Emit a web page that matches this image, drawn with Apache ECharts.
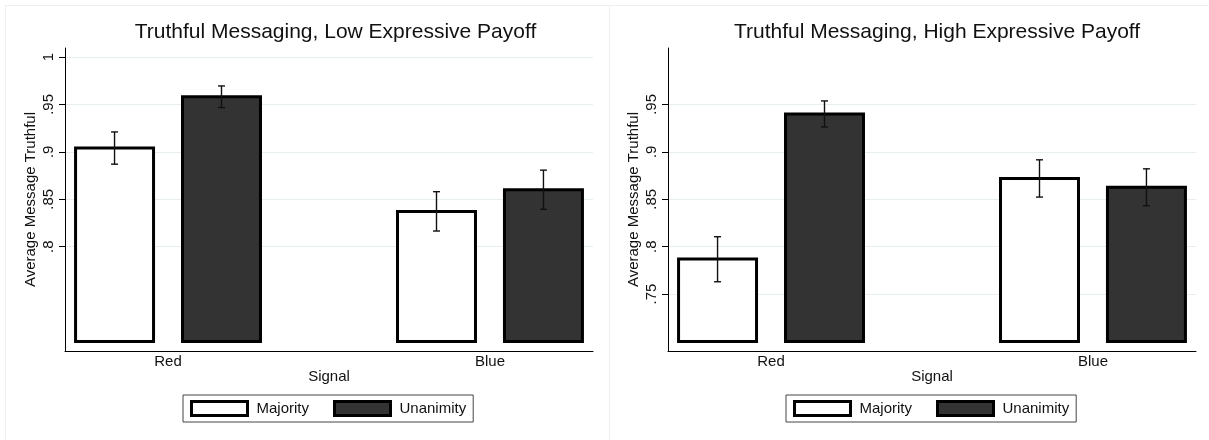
<!DOCTYPE html>
<html><head><meta charset="utf-8">
<script src="https://cdn.jsdelivr.net/npm/echarts@6/dist/echarts.min.js"></script>
<style>html,body{margin:0;padding:0;background:#fff}#c{width:1209px;height:440px}</style>
</head><body><div id="c"></div>
<script>
const categories = ['Red', 'Blue'];
const seriesNames = ['Majority', 'Unanimity'];
const barBase = 0.7;
const lowMajority = [0.904, 0.837];
const lowMajorityLo = [0.887, 0.8165];
const lowMajorityHi = [0.921, 0.858];
const lowUnanimity = [0.958, 0.860];
const lowUnanimityLo = [0.9467, 0.8394];
const lowUnanimityHi = [0.9695, 0.8807];
const highMajority = [0.787, 0.872];
const highMajorityLo = [0.763, 0.8523];
const highMajorityHi = [0.8105, 0.8916];
const highUnanimity = [0.940, 0.8626];
const highUnanimityLo = [0.9263, 0.8432];
const highUnanimityHi = [0.9537, 0.8821];
const lowTicks = [0.8, 0.85, 0.9, 0.95, 1];
const highTicks = [0.75, 0.8, 0.85, 0.9, 0.95];
const titles = ['Truthful Messaging, Low Expressive Payoff', 'Truthful Messaging, High Expressive Payoff'];
const yTitle = 'Average Message Truthful';
const xTitle = 'Signal';

const FONT = '"Liberation Sans", Arial, sans-serif';
const fills = { Majority: '#ffffff', Unanimity: '#333333' };
const sides = { Majority: -1, Unanimity: 1 };

function fmtTick(v) {
  return v === 1 ? '1' : String(v).replace(/^0/, '');
}

function makeRender(name) {
  const side = sides[name];
  const fill = fills[name];
  return function (params, api) {
    const x = api.value(0), v = api.value(1), lo = api.value(2), hi = api.value(3);
    const unit = api.size([1, 0])[0];
    const p = api.coord([x, v]);
    const cx = p[0] + side * 0.1661 * unit;
    const yTop = p[1];
    const yBase = api.coord([x, barBase])[1];
    const yLo = api.coord([x, lo])[1];
    const yHi = api.coord([x, hi])[1];
    const w = 0.2422 * unit;
    const cap = 3.5;
    const es = { stroke: '#111', lineWidth: 1.4 };
    return {
      type: 'group',
      children: [
        { type: 'rect', shape: { x: cx - w / 2, y: yTop, width: w, height: yBase - yTop },
          style: { fill: fill, stroke: '#000', lineWidth: 3 } },
        { type: 'line', shape: { x1: cx, y1: yLo, x2: cx, y2: yHi }, style: es },
        { type: 'line', shape: { x1: cx - cap, y1: yHi, x2: cx + cap, y2: yHi }, style: es },
        { type: 'line', shape: { x1: cx - cap, y1: yLo, x2: cx + cap, y2: yLo }, style: es }
      ]
    };
  };
}

function buildData(vals, los, his) {
  return categories.map((c, i) => [i, vals[i], los[i], his[i]]);
}

const panels = [
  { left: 65, ticks: lowTicks, legendLeft: 183, titleX: 330.5,
    data: { Majority: buildData(lowMajority, lowMajorityLo, lowMajorityHi),
            Unanimity: buildData(lowUnanimity, lowUnanimityLo, lowUnanimityHi) } },
  { left: 668, ticks: highTicks, legendLeft: 786, titleX: 932,
    data: { Majority: buildData(highMajority, highMajorityLo, highMajorityHi),
            Unanimity: buildData(highUnanimity, highUnanimityLo, highUnanimityHi) } }
];

const frameStyle = { stroke: '#edf1f2', lineWidth: 1 };

const option = {
  animation: false,
  backgroundColor: '#ffffff',
  textStyle: { fontFamily: FONT },
  title: panels.map((p, i) => ({
    text: titles[i], left: p.titleX, top: 17, textAlign: 'center',
    textStyle: { fontFamily: FONT, fontSize: 21, fontWeight: 'normal', color: '#111' }
  })),
  grid: panels.map(p => ({ left: p.left, width: 528, top: 48, height: 303 })),
  xAxis: panels.map((p, i) => ({
    type: 'value', gridIndex: i, min: -0.32, max: 1.32,
    name: xTitle, nameLocation: 'middle', nameGap: 18, nameMoveOverlap: false,
    nameTextStyle: { fontFamily: FONT, fontSize: 15, color: '#111' },
    axisLine: { show: true, onZero: false, lineStyle: { color: '#000', width: 1 } },
    axisTick: { show: false, customValues: [0, 1] },
    splitLine: { show: false },
    axisLabel: { customValues: [0, 1], formatter: v => categories[Math.round(v)] || '',
      fontFamily: FONT, fontSize: 15, color: '#111', margin: 3 }
  })),
  yAxis: panels.map((p, i) => ({
    type: 'value', gridIndex: i, min: 0.69, max: 1.0095,
    name: yTitle, nameLocation: 'middle', nameGap: 27, nameRotate: 90, nameMoveOverlap: false,
    nameTextStyle: { fontFamily: FONT, fontSize: 15, color: '#111' },
    axisLine: { show: true, onZero: false, lineStyle: { color: '#000', width: 1 } },
    axisTick: { show: true, length: 6, customValues: p.ticks, lineStyle: { color: '#000' } },
    splitLine: { show: true, lineStyle: { color: '#e6eef0', width: 1 } },
    axisLabel: { customValues: p.ticks, formatter: fmtTick, rotate: 90,
      fontFamily: FONT, fontSize: 15, color: '#111', margin: 9 }
  })),
  legend: panels.map(p => ({
    left: p.legendLeft, top: 395, orient: 'horizontal',
    padding: [5, 7, 5, 7], itemGap: 24, itemWidth: 56, itemHeight: 14,
    borderColor: '#444', borderWidth: 1, selectedMode: false,
    textStyle: { fontFamily: FONT, fontSize: 15, color: '#111', padding: [0, 0, 0, 4] },
    data: seriesNames.map(n => ({ name: n, icon: 'rect',
      itemStyle: { color: fills[n], borderColor: '#000', borderWidth: 3 } }))
  })),
  graphic: [
    { type: 'line', shape: { x1: 5, y1: 5.5, x2: 1209, y2: 5.5 }, silent: true, style: frameStyle },
    { type: 'line', shape: { x1: 5.5, y1: 5, x2: 5.5, y2: 440 }, silent: true, style: frameStyle },
    { type: 'line', shape: { x1: 609.5, y1: 5, x2: 609.5, y2: 440 }, silent: true, style: frameStyle }
  ],
  series: []
};

panels.forEach((p, i) => {
  seriesNames.forEach(n => {
    option.series.push({
      type: 'custom', name: n, xAxisIndex: i, yAxisIndex: i,
      itemStyle: { color: fills[n], borderColor: '#000', borderWidth: 3 },
      encode: { x: 0, y: [1, 2, 3] },
      renderItem: makeRender(n),
      data: p.data[n]
    });
  });
});

const chart = echarts.init(document.getElementById('c'), null, { renderer: 'canvas' });
chart.setOption(option);
</script>
</body></html>
